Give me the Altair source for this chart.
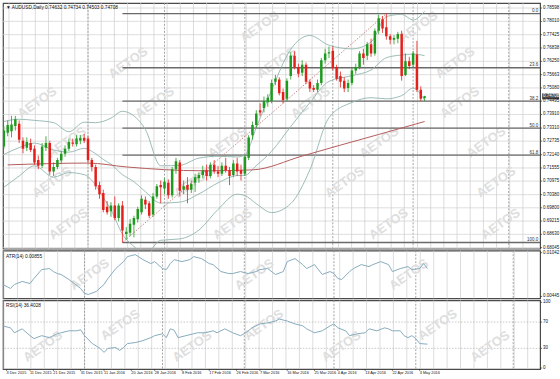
import altair as alt
import numpy as np
import pandas as pd

# ---------------- data (AUDUSD daily, bar index 0 = 1 Dec 2015) ----------------
opens = [0.7250, 0.7310, 0.7317, 0.7340, 0.7350, 0.7275, 0.7245, 0.7265, 0.7240, 0.7190,
         0.7165, 0.7245, 0.7265, 0.7140, 0.7160, 0.7188, 0.7218, 0.7240, 0.7268, 0.7260,
         0.7275, 0.7288, 0.7285, 0.7190, 0.7160, 0.7080, 0.7045, 0.6985, 0.6965, 0.6990,
         0.6935, 0.6990, 0.6865, 0.6870, 0.6905, 0.6930, 0.6960, 0.7015, 0.7000, 0.6950,
         0.7030, 0.7080, 0.7065, 0.7090, 0.7035, 0.7150, 0.7180, 0.7060, 0.7080, 0.7060,
         0.7090, 0.7110, 0.7125, 0.7145, 0.7120, 0.7170, 0.7140, 0.7130, 0.7165, 0.7145,
         0.7125, 0.7175, 0.7145, 0.7130, 0.7200, 0.7300, 0.7345, 0.7410, 0.7420, 0.7445,
         0.7450, 0.7535, 0.7545, 0.7490, 0.7460, 0.7560, 0.7650, 0.7600, 0.7575, 0.7610,
         0.7535, 0.7508, 0.7500, 0.7530, 0.7630, 0.7660, 0.7672, 0.7600, 0.7560, 0.7540,
         0.7508, 0.7530, 0.7585, 0.7600, 0.7660, 0.7650, 0.7700, 0.7660, 0.7760, 0.7810,
         0.7775, 0.7735, 0.7720, 0.7725, 0.7745, 0.7565, 0.7625, 0.7610, 0.7655, 0.7500,
         0.74632]
highs = [0.7340, 0.7365, 0.7385, 0.7385, 0.7365, 0.7290, 0.7290, 0.7285, 0.7255, 0.7210,
         0.7265, 0.7295, 0.7275, 0.7180, 0.7200, 0.7230, 0.7255, 0.7285, 0.7285, 0.7300,
         0.7300, 0.7305, 0.7295, 0.7200, 0.7170, 0.7095, 0.7060, 0.7010, 0.7005, 0.7030,
         0.7000, 0.7010, 0.6895, 0.6930, 0.6945, 0.6985, 0.7035, 0.7030, 0.7010, 0.7045,
         0.7085, 0.7100, 0.7110, 0.7105, 0.7160, 0.7200, 0.7190, 0.7100, 0.7115, 0.7100,
         0.7130, 0.7135, 0.7165, 0.7170, 0.7180, 0.7190, 0.7165, 0.7180, 0.7200, 0.7160,
         0.7190, 0.7200, 0.7170, 0.7215, 0.7300, 0.7360, 0.7410, 0.7440, 0.7470, 0.7480,
         0.7545, 0.7565, 0.7555, 0.7505, 0.7550, 0.7665, 0.7670, 0.7615, 0.7630, 0.7620,
         0.7545, 0.7520, 0.7545, 0.7640, 0.7680, 0.7690, 0.7690, 0.7610, 0.7580, 0.7555,
         0.7545, 0.7595, 0.7615, 0.7670, 0.7680, 0.7710, 0.7725, 0.7770, 0.7830, 0.7825,
         0.7835, 0.7745, 0.7740, 0.7755, 0.7760, 0.7660, 0.7645, 0.7670, 0.7715, 0.7515,
         0.74734]
lows = [0.7240, 0.7295, 0.7290, 0.7320, 0.7265, 0.7220, 0.7230, 0.7225, 0.7170, 0.7150,
        0.7155, 0.7230, 0.7125, 0.7120, 0.7150, 0.7175, 0.7205, 0.7230, 0.7250, 0.7250,
        0.7260, 0.7265, 0.7180, 0.7140, 0.7060, 0.7020, 0.6960, 0.6950, 0.6940, 0.6925,
        0.6920, 0.6827, 0.6840, 0.6855, 0.6850, 0.6915, 0.6950, 0.6975, 0.6935, 0.6940,
        0.7020, 0.7000, 0.7040, 0.7020, 0.7025, 0.7130, 0.7030, 0.7040, 0.7000, 0.7045,
        0.7050, 0.7090, 0.7110, 0.7100, 0.7110, 0.7130, 0.7115, 0.7120, 0.7135, 0.7080,
        0.7115, 0.7120, 0.7100, 0.7120, 0.7190, 0.7280, 0.7330, 0.7385, 0.7400, 0.7425,
        0.7440, 0.7520, 0.7475, 0.7440, 0.7450, 0.7545, 0.7590, 0.7555, 0.7560, 0.7525,
        0.7490, 0.7490, 0.7490, 0.7520, 0.7615, 0.7640, 0.7585, 0.7540, 0.7510, 0.7490,
        0.7490, 0.7520, 0.7570, 0.7590, 0.7610, 0.7630, 0.7645, 0.7650, 0.7745, 0.7750,
        0.7720, 0.7700, 0.7700, 0.7705, 0.7540, 0.7560, 0.7590, 0.7600, 0.7490, 0.7450,
        0.74503]
closes = [0.7320, 0.7345, 0.7347, 0.7370, 0.7280, 0.7240, 0.7270, 0.7235, 0.7180, 0.7165,
          0.7250, 0.7265, 0.7140, 0.7160, 0.7190, 0.7218, 0.7240, 0.7270, 0.7262, 0.7285,
          0.7288, 0.7275, 0.7190, 0.7160, 0.7075, 0.7040, 0.6970, 0.6960, 0.6990, 0.6935,
          0.6990, 0.6880, 0.6875, 0.6910, 0.6935, 0.6975, 0.7020, 0.6995, 0.6945, 0.7030,
          0.7075, 0.7070, 0.7095, 0.7035, 0.7150, 0.7185, 0.7055, 0.7075, 0.7060, 0.7085,
          0.7115, 0.7125, 0.7145, 0.7120, 0.7170, 0.7140, 0.7130, 0.7165, 0.7145, 0.7120,
          0.7175, 0.7140, 0.7130, 0.7205, 0.7290, 0.7345, 0.7395, 0.7400, 0.7450, 0.7465,
          0.7530, 0.7550, 0.7485, 0.7455, 0.7540, 0.7650, 0.7600, 0.7570, 0.7610, 0.7535,
          0.7505, 0.7500, 0.7530, 0.7630, 0.7660, 0.7665, 0.7595, 0.7548, 0.7535, 0.7505,
          0.7530, 0.7585, 0.7600, 0.7660, 0.7640, 0.7700, 0.7660, 0.7760, 0.7815, 0.7770,
          0.7735, 0.7720, 0.7728, 0.7745, 0.7560, 0.7625, 0.7605, 0.7660, 0.7500, 0.7460,
          0.74708]

date_tick_index = [2, 8, 14, 21, 27, 34, 40, 47, 54, 61, 67, 74, 81, 87, 94, 101, 108]
date_tick_text = ["3 Dec 2015", "11 Dec 2015", "21 Dec 2015", "31 Dec 2015", "11 Jan 2016",
                  "20 Jan 2016", "28 Jan 2016", "8 Feb 2016", "17 Feb 2016", "26 Feb 2016",
                  "7 Mar 2016", "16 Mar 2016", "25 Mar 2016", "4 Apr 2016", "13 Apr 2016",
                  "22 Apr 2016", "3 May 2016"]
month_start_index = [22, 42, 63, 86, 107, 132]

price_ticks = [0.78598, 0.78010, 0.77425, 0.76838, 0.76250, 0.75663, 0.75080, 0.74495,
               0.73910, 0.73310, 0.72735, 0.72140, 0.71555, 0.70975, 0.70380, 0.69800,
               0.69215, 0.68630, 0.68045]

fib_level_names = ["0.0", "23.6", "38.2", "50.0", "61.8", "100.0"]
fib_level_prices = [0.7835, 0.7597, 0.7450, 0.7331, 0.7212, 0.6827]
fib_start_index = 31
fib_anchor_index = [31, 100]
fib_anchor_price = [0.6827, 0.7835]

bb_index = [0, 4, 8, 13, 17, 21, 24, 26, 28, 31, 34, 37, 41, 46, 51, 56, 61, 63, 66, 70,
            75, 80, 85, 91, 96, 100, 104, 107, 110]
bb_upper = [0.7360, 0.7370, 0.7365, 0.7355, 0.7315, 0.7357, 0.7355, 0.7361, 0.7375, 0.7405,
            0.7385, 0.7325, 0.7165, 0.7167, 0.7199, 0.7207, 0.7204, 0.7212, 0.7333, 0.7499,
            0.7678, 0.7739, 0.7696, 0.7680, 0.7710, 0.7822, 0.7832, 0.7807, 0.7846]
bb_middle = [0.7215, 0.7245, 0.7265, 0.7235, 0.7225, 0.7242, 0.7218, 0.7193, 0.7172, 0.7126,
             0.7095, 0.7051, 0.7001, 0.7005, 0.7041, 0.7090, 0.7122, 0.7123, 0.7166, 0.7229,
             0.7338, 0.7443, 0.7537, 0.7562, 0.7587, 0.7641, 0.7653, 0.7657, 0.7650]
bb_lower = [0.7070, 0.7120, 0.7165, 0.7115, 0.7135, 0.7126, 0.7080, 0.7025, 0.6972, 0.6864,
            0.6810, 0.6777, 0.6837, 0.6843, 0.6882, 0.6973, 0.7040, 0.7034, 0.6998, 0.6959,
            0.6998, 0.7147, 0.7377, 0.7444, 0.7465, 0.7460, 0.7474, 0.7507, 0.7454]

ma_index = [1, 22, 32, 52, 65, 78, 88, 98, 110]
ma_value = [0.7169, 0.7177, 0.7160, 0.7143, 0.7147, 0.7208, 0.7256, 0.7303, 0.7360]

atr_index = [1, 3, 4, 6, 8, 9, 11, 13, 14, 15, 16, 18, 21, 22, 23, 25, 27, 28, 30, 32,
             33, 35, 37, 39, 40, 42, 43, 44, 45, 47, 49, 50, 52, 54, 55, 57, 59, 60, 62, 64,
             66, 67, 69, 71, 73, 74, 76, 78, 79, 81, 83, 85, 86, 87, 88, 90, 91, 93, 95, 96,
             98, 100, 101, 103, 105, 106, 108, 109, 110]
atr_value = [0.00608, 0.00554, 0.00608, 0.00649, 0.00621, 0.00689, 0.00811, 0.00825, 0.00784, 0.00757,
             0.00744, 0.00676, 0.00554, 0.00486, 0.00472, 0.00513, 0.00608, 0.00689, 0.00825, 0.00920,
             0.00988, 0.01015, 0.00947, 0.00893, 0.00920, 0.00825, 0.00811, 0.00893, 0.00947, 0.00920,
             0.00947, 0.00988, 0.00961, 0.00893, 0.00879, 0.00784, 0.00757, 0.00757, 0.00784, 0.00757,
             0.00784, 0.00811, 0.00825, 0.00744, 0.00784, 0.00920, 0.00961, 0.00879, 0.00825, 0.00879,
             0.00744, 0.00784, 0.00757, 0.00689, 0.00676, 0.00784, 0.00825, 0.00879, 0.00852, 0.00879,
             0.00920, 0.00879, 0.00784, 0.00825, 0.00852, 0.00811, 0.00825, 0.00893, 0.00825]
atr_ticks = [0.00445, 0.01042]

rsi_index = [1, 3, 4, 6, 8, 9, 11, 13, 15, 16, 18, 20, 21, 22, 24, 26, 27, 28, 30, 31,
             32, 33, 35, 37, 39, 40, 42, 43, 44, 45, 46, 48, 50, 51, 53, 55, 56, 58, 59, 60,
             62, 63, 65, 67, 69, 71, 72, 74, 76, 78, 79, 81, 83, 85, 86, 87, 89, 90, 92, 94,
             95, 97, 99, 100, 101, 103, 104, 105, 106, 107, 108, 110]
rsi_value = [64.2, 61.2, 53.7, 59.7, 49.3, 44.8, 49.3, 46.3, 52.2, 53.7, 56.7, 56.7, 58.2, 49.3,
             37.3, 29.9, 23.9, 29.9, 31.3, 26.9, 31.3, 37.3, 38.8, 41.8, 46.3, 49.3, 52.2, 46.3,
             59.7, 57.5, 46.3, 49.3, 52.2, 53.7, 53.7, 56.7, 53.7, 59.7, 56.7, 53.7, 49.3, 52.2,
             61.2, 67.2, 68.7, 71.6, 74.6, 71.6, 67.2, 64.2, 59.7, 53.7, 56.7, 64.2, 67.2, 61.2,
             56.7, 49.3, 52.2, 53.7, 59.7, 56.7, 61.2, 59.7, 56.7, 56.7, 49.3, 46.3, 49.3, 44.8,
             37.3, 36.4]
rsi_ticks = [100, 70, 30, 0]
rsi_levels = [70, 30]

header_text = "▼ AUDUSD,Daily  0.74632 0.74734 0.74503 0.74708"
last_price = 0.74708
atr_text = "ATR(14) 0.00855"
rsi_text = "RSI(14) 36.4028"
watermark_text = "AETOS"

wm_main_index = [66.9, 108.3, 32.5, 71.3, 118, 8.7, 39.4, 80.2, 119.2, 16.4, 58.5, 98.1,
                 126.1, 12.6, 49.6, 89.1, 128.7, 16.9, 59.8, 100.6, 129.9]
wm_main_price = [0.7777, 0.7777, 0.7619, 0.7619, 0.7619, 0.7444, 0.7444, 0.7444, 0.7444,
                 0.7268, 0.7268, 0.7268, 0.7268, 0.7093, 0.7093, 0.7093, 0.7093, 0.6909,
                 0.6909, 0.6909, 0.6909]
wm_atr_index = [23.3, 65.6, 105.2]
wm_atr_value = [0.00744, 0.00744, 0.00744]
wm_rsi_index = [31.2, 68, 112.6, 11.3, 49.6, 87.9, 126.1]
wm_rsi_value = [65.7, 65.7, 65.7, 33, 33, 33, 33]

# ---------------- layout / style ----------------
W = 540
H_MAIN = 247
H_ATR = 48
H_RSI = 69
FONT = "Liberation Sans"
GRID = "#cdcdcd"
LINE_IND = "#86abbd"

xscale = alt.Scale(domain=[1.07, 138.9], nice=False, zero=False)
grid_x = [float(v) for v in np.arange(1.33, 139, 3.4457)]

n = len(opens)
bars = pd.DataFrame({"i": list(range(n)), "open": opens, "high": highs, "low": lows, "close": closes})
bars["dir"] = np.where(bars["close"] >= bars["open"], "up", "down")
color_enc = alt.Color("dir:N", scale=alt.Scale(domain=["up", "down"], range=["#1e9a1e", "#e3201c"]),
                      legend=None)

seps = pd.DataFrame({"i": month_start_index})
vgrid = pd.DataFrame({"i": grid_x})


def vertical_guides():
    g = alt.Chart(vgrid).mark_rule(color=GRID, strokeWidth=0.7).encode(
        x=alt.X("i:Q", scale=xscale, axis=None))
    s = alt.Chart(seps).mark_rule(color="#999999", strokeDash=[2, 1.5], strokeWidth=0.9).encode(
        x=alt.X("i:Q", scale=xscale, axis=None))
    return [g, s]


def watermark(df, yfield, yscale):
    return alt.Chart(df).mark_text(
        text=watermark_text, angle=325, fontSize=13, fontWeight="bold", font=FONT,
        color="#dedede").encode(
        x=alt.X("i:Q", scale=xscale, axis=None), y=alt.Y(f"{yfield}:Q", scale=yscale, axis=None))


def right_labels(values, fmt, yscale, grid_color=None, grid_dash=None, grid_values=None):
    df = pd.DataFrame({"v": values, "t": [format(v, fmt) for v in values]})
    layers = []
    if grid_color is not None:
        gdf = df if grid_values is None else pd.DataFrame({"v": grid_values})
        g = alt.Chart(gdf).mark_rule(color=grid_color, strokeWidth=0.7,
                                     strokeDash=grid_dash if grid_dash else [1, 0]).encode(
            y=alt.Y("v:Q", scale=yscale, axis=None))
        layers.append(g)
    ticks = alt.Chart(df).mark_rule(color="#333333", strokeWidth=0.7).encode(
        x=alt.value(W), x2=alt.value(W + 2), y=alt.Y("v:Q", scale=yscale, axis=None))
    labels = alt.Chart(df).mark_text(align="left", baseline="middle", fontSize=4.5, font=FONT,
                                     color="#111111").encode(
        x=alt.value(W + 3), y=alt.Y("v:Q", scale=yscale, axis=None), text="t:N")
    return layers, [ticks, labels]


# ---------------- main panel ----------------
ymain = alt.Scale(domain=[0.6800, 0.7882], nice=False, zero=False)
main_grid, main_axis = right_labels(price_ticks, ".5f", ymain, grid_color=GRID)

wm_main = watermark(pd.DataFrame({"i": wm_main_index, "p": wm_main_price}), "p", ymain)

fib_df = pd.DataFrame({"name": fib_level_names, "p": fib_level_prices,
                       "start": [fib_start_index] * len(fib_level_names)})
fib_rules = alt.Chart(fib_df).mark_rule(color="#6a6a6a", strokeWidth=1.4).encode(
    x=alt.X("start:Q", scale=xscale, axis=None), x2=alt.value(W),
    y=alt.Y("p:Q", scale=ymain, axis=None))
fib_labels = alt.Chart(fib_df).mark_text(align="right", baseline="bottom", fontSize=4.5, font=FONT,
                                         color="#333333", dy=-0.5).encode(
    x=alt.value(W - 2), y=alt.Y("p:Q", scale=ymain, axis=None), text="name:N")
fib_trend = alt.Chart(pd.DataFrame({"i": fib_anchor_index, "p": fib_anchor_price})).mark_line(
    color="#c97a7a", strokeDash=[1.5, 1.5], strokeWidth=0.9).encode(
    x=alt.X("i:Q", scale=xscale, axis=None), y=alt.Y("p:Q", scale=ymain, axis=None))

bb_df = pd.concat([
    pd.DataFrame({"i": bb_index, "v": bb_upper, "band": "upper"}),
    pd.DataFrame({"i": bb_index, "v": bb_middle, "band": "middle"}),
    pd.DataFrame({"i": bb_index, "v": bb_lower, "band": "lower"}),
])
bb = alt.Chart(bb_df).mark_line(color="#8fb5b0", strokeWidth=0.9, interpolate="monotone",
                                clip=True).encode(
    x=alt.X("i:Q", scale=xscale, axis=None), y=alt.Y("v:Q", scale=ymain, axis=None),
    detail="band:N")

ma = alt.Chart(pd.DataFrame({"i": ma_index, "v": ma_value})).mark_line(
    color="#b45c5c", strokeWidth=1, interpolate="monotone", clip=True).encode(
    x=alt.X("i:Q", scale=xscale, axis=None), y=alt.Y("v:Q", scale=ymain, axis=None))

wicks = alt.Chart(bars).mark_rule(strokeWidth=0.8, clip=True).encode(
    x=alt.X("i:Q", scale=xscale, axis=None), y=alt.Y("low:Q", scale=ymain, axis=None),
    y2="high:Q", color=color_enc)
bodies = alt.Chart(bars).mark_bar(size=2.5, clip=True).encode(
    x=alt.X("i:Q", scale=xscale, axis=None), y=alt.Y("open:Q", scale=ymain, axis=None),
    y2="close:Q", color=color_enc)

header = alt.Chart(pd.DataFrame({"t": [header_text]})).mark_text(
    align="left", baseline="top", fontSize=4.8, font=FONT, color="#111111").encode(
    x=alt.value(3), y=alt.value(2), text="t:N")

price_df = pd.DataFrame({"p": [last_price], "t": [f"{last_price:.5f}"]})
price_box = alt.Chart(price_df).mark_tick(orient="horizontal", size=17, thickness=6,
                                          color="black").encode(
    x=alt.value(W + 10.5), y=alt.Y("p:Q", scale=ymain, axis=None))
price_txt = alt.Chart(price_df).mark_text(align="left", baseline="middle", fontSize=4.5, font=FONT,
                                          color="white").encode(
    x=alt.value(W + 3), y=alt.Y("p:Q", scale=ymain, axis=None), text="t:N")

main = alt.layer(*vertical_guides(), *main_grid, wm_main, fib_rules, fib_trend, bb, ma, wicks,
                 bodies, fib_labels, header, *main_axis, price_box, price_txt).properties(
    width=W, height=H_MAIN)

# ---------------- ATR panel ----------------
yatr = alt.Scale(domain=[0.004179, 0.010691], nice=False, zero=False)
_, atr_axis = right_labels(atr_ticks, ".5f", yatr)
wm_atr = watermark(pd.DataFrame({"i": wm_atr_index, "v": wm_atr_value}), "v", yatr)
atr_line = alt.Chart(pd.DataFrame({"i": atr_index, "v": atr_value})).mark_line(
    color=LINE_IND, strokeWidth=1).encode(
    x=alt.X("i:Q", scale=xscale, axis=None), y=alt.Y("v:Q", scale=yatr, axis=None))
atr_label = alt.Chart(pd.DataFrame({"t": [atr_text]})).mark_text(
    align="left", baseline="top", fontSize=4.8, font=FONT, color="#111111").encode(
    x=alt.value(3), y=alt.value(3), text="t:N")
atr = alt.layer(*vertical_guides(), wm_atr, atr_line, atr_label, *atr_axis).properties(
    width=W, height=H_ATR)

# ---------------- RSI panel ----------------
yrsi = alt.Scale(domain=[-1.5, 103], nice=False, zero=False)
rsi_grid, rsi_axis = right_labels(rsi_ticks, "d", yrsi, grid_color="#b0b0b0", grid_dash=[1.5, 1.5],
                                  grid_values=rsi_levels)
wm_rsi = watermark(pd.DataFrame({"i": wm_rsi_index, "v": wm_rsi_value}), "v", yrsi)
rsi_line = alt.Chart(pd.DataFrame({"i": rsi_index, "v": rsi_value})).mark_line(
    color=LINE_IND, strokeWidth=1).encode(
    x=alt.X("i:Q", scale=xscale, axis=None), y=alt.Y("v:Q", scale=yrsi, axis=None))
rsi_label = alt.Chart(pd.DataFrame({"t": [rsi_text]})).mark_text(
    align="left", baseline="top", fontSize=4.8, font=FONT, color="#111111").encode(
    x=alt.value(3), y=alt.value(3), text="t:N")
dates_df = pd.DataFrame({"i": date_tick_index, "t": date_tick_text})
date_ticks = alt.Chart(dates_df).mark_rule(color="#333333", strokeWidth=0.6).encode(
    x=alt.X("i:Q", scale=xscale, axis=None), y=alt.value(H_RSI), y2=alt.value(H_RSI + 2))
date_labels = alt.Chart(dates_df).mark_text(align="left", baseline="top", fontSize=3.9, font=FONT,
                                            color="#111111").encode(
    x=alt.X("i:Q", scale=xscale, axis=None), y=alt.value(H_RSI + 2), text="t:N")
rsi = alt.layer(*vertical_guides(), *rsi_grid, wm_rsi, rsi_line, rsi_label, *rsi_axis, date_ticks,
                date_labels).properties(width=W, height=H_RSI)

chart = alt.vconcat(main, atr, rsi, spacing=2, bounds="flush").properties(
    padding={"left": 0, "top": 0, "right": 0, "bottom": 0}, background="white"
).configure_view(stroke="#4a4a4a", strokeWidth=1.2)

chart.save("out.html", embed_options={"renderer": "svg", "actions": False})
